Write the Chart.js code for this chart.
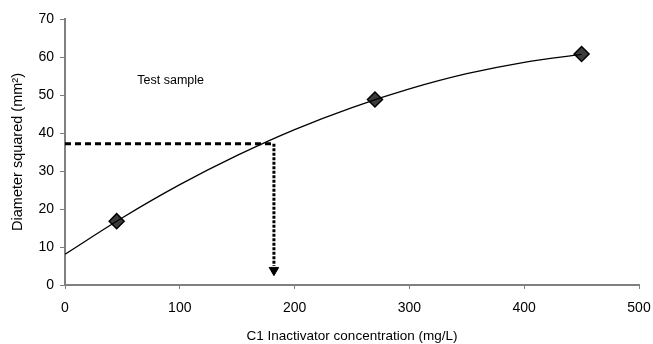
<!DOCTYPE html>
<html>
<head>
<meta charset="utf-8">
<script src="https://cdn.jsdelivr.net/npm/chart.js@4"></script>
<style>
  html, body { margin: 0; padding: 0; background: #fff; }
  #wrap { width: 653px; height: 344px; }
</style>
</head>
<body>
<div id="wrap"><canvas id="chart" width="653" height="344"></canvas></div>
<script>
// ---------- Data ----------
const standardConc = [45, 270, 450];          // mg/L
const standardDiam = [16.8, 48.8, 60.8];      // mm²

// fitted curve, read at regular steps along the drawn line
const curveConc = [0, 50, 100, 150, 200, 250, 300, 350, 400, 450];
const curveDiam = [8.1, 17.7, 26.4, 34.1, 40.9, 46.7, 51.6, 55.6, 58.6, 60.7];

// test sample reading
const testConc = [0, 182];
const testDiam = [37.2, 37.2];
const dropConc = [182, 182];
const dropDiam = [37.2, 5.0];
const arrowConc = [182];
const arrowDiam = [3.9];

const xTicks = [0, 100, 200, 300, 400, 500];
const yTicks = [0, 10, 20, 30, 40, 50, 60, 70];

const FONT = "'Liberation Sans', Arial, sans-serif";
const pts = (xs, ys) => xs.map((x, i) => ({ x, y: ys[i] }));

// ---------- "Test sample" label ----------
const labelPlugin = {
  id: "testLabel",
  afterDatasetsDraw(chart) {
    const { ctx, scales } = chart;
    ctx.save();
    ctx.font = "12.5px " + FONT;
    ctx.fillStyle = "#000";
    ctx.textAlign = "left";
    ctx.textBaseline = "middle";
    ctx.fillText("Test sample", scales.x.getPixelForValue(63), scales.y.getPixelForValue(53.9));
    ctx.restore();
  }
};

new Chart(document.getElementById("chart"), {
  type: "scatter",
  data: {
    datasets: [
      {
        data: pts(curveConc, curveDiam),
        showLine: true,
        borderColor: "#000",
        borderWidth: 1.3,
        cubicInterpolationMode: "monotone",
        pointRadius: 0,
        order: 0
      },
      {
        data: pts(standardConc, standardDiam),
        pointStyle: "rectRot",
        pointRadius: 7.5,
        backgroundColor: "#3c3c3c",
        borderColor: "#000",
        borderWidth: 1.5,
        order: 1
      },
      {
        data: pts(testConc, testDiam),
        showLine: true,
        borderColor: "#000",
        borderWidth: 3,
        borderDash: [6, 4],
        pointRadius: 0,
        order: 2
      },
      {
        data: pts(dropConc, dropDiam),
        showLine: true,
        borderColor: "#000",
        borderWidth: 3,
        borderDash: [3, 1.5],
        pointRadius: 0,
        order: 2
      },
      {
        data: pts(arrowConc, arrowDiam),
        pointStyle: "triangle",
        rotation: 180,
        pointRadius: 5.5,
        backgroundColor: "#000",
        borderColor: "#000",
        borderWidth: 1,
        order: 2
      }
    ]
  },
  options: {
    responsive: false,
    animation: false,
    events: [],
    layout: { padding: { top: 19, right: 14, left: 0, bottom: 0 } },
    plugins: { legend: { display: false }, tooltip: { enabled: false } },
    scales: {
      x: {
        type: "linear",
        min: 0, max: 500,
        afterBuildTicks: s => { s.ticks = xTicks.map(v => ({ value: v })); },
        afterFit: s => { s.height = 59; s.paddingLeft = 0; s.paddingRight = 0; },
        grid: { drawOnChartArea: false, drawTicks: true, tickLength: 4, color: "#808080", lineWidth: 1 },
        border: { color: "#808080", width: 2 },
        ticks: { color: "#000", font: { family: FONT, size: 14 }, padding: 11, maxRotation: 0 },
        title: { display: true, text: "C1 Inactivator concentration (mg/L)", color: "#000",
                 font: { family: FONT, size: 13.5 }, padding: { top: 6, bottom: 0 } }
      },
      y: {
        type: "linear",
        min: 0, max: 70,
        afterBuildTicks: s => { s.ticks = yTicks.map(v => ({ value: v })); },
        afterFit: s => { s.width = 65; s.paddingTop = 0; s.paddingBottom = 0; },
        grid: { drawOnChartArea: false, drawTicks: true, tickLength: 5, color: "#808080", lineWidth: 1 },
        border: { color: "#808080", width: 2 },
        ticks: { color: "#000", font: { family: FONT, size: 14 }, padding: 6 },
        title: { display: true, text: "Diameter squared (mm²)", color: "#000",
                 font: { family: FONT, size: 14.5 }, padding: { top: 9, bottom: 4 } }
      }
    }
  },
  plugins: [labelPlugin]
});
</script>
</body>
</html>
